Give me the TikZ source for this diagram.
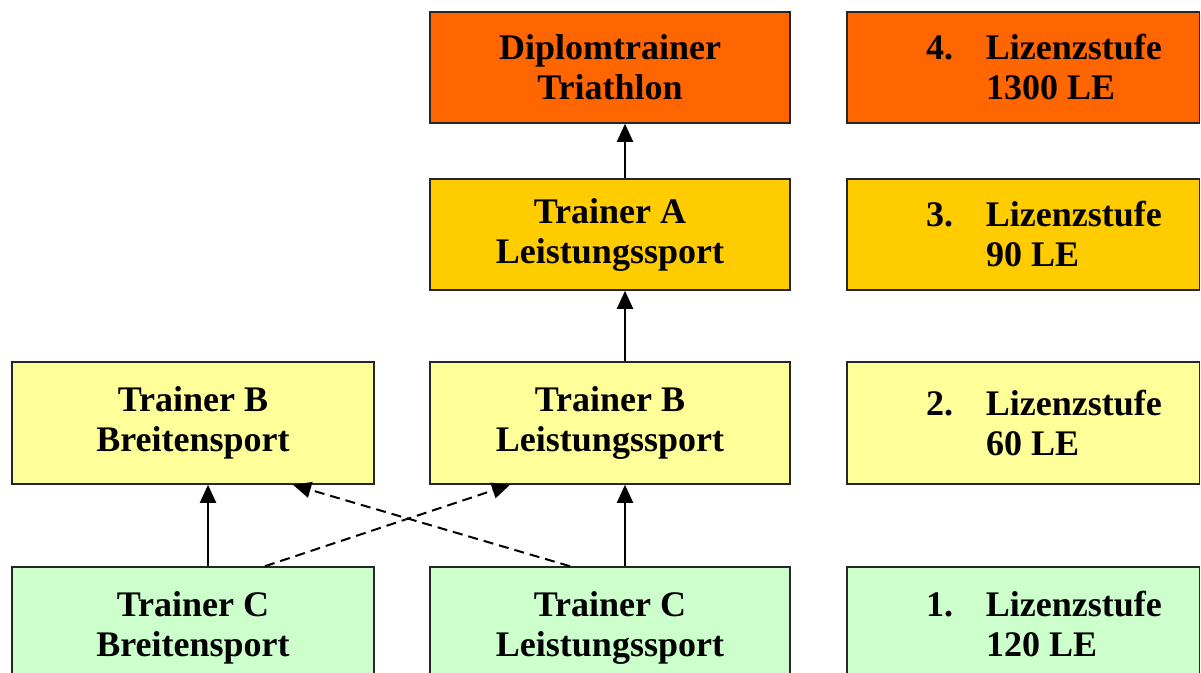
\documentclass[tikz,border=0pt]{standalone}
\usepackage{fontspec}
\setmainfont{Liberation Serif}
\usetikzlibrary{positioning,arrows.meta}

\definecolor{stufeVier}{HTML}{FF6600}
\definecolor{stufeDrei}{HTML}{FFCC00}
\definecolor{stufeZwei}{HTML}{FFFF99}
\definecolor{stufeEins}{HTML}{CCFFCC}

% Nummer, Lizenzstufe, Lerneinheiten
\newcommand{\stufentext}[2]{\hspace*{39.5pt}\makebox[30pt][l]{#1}Lizenzstufe\\\hspace*{69.5pt}#2}

\begin{document}
\begin{tikzpicture}[node distance=2cm,on grid,
	box/.style={draw=black!85,line width=0.8pt,minimum width=180pt,inner sep=0pt,
		align=center,font=\fontsize{18}{20}\selectfont\bfseries},
	stufe/.style={box,minimum width=176.3pt,text width=176.3pt,align=flush left},
	hoch/.style={minimum height=55.5pt},
	tief/.style={minimum height=61pt},
	pfeil/.style={line width=1pt,-{Triangle[length=9pt,width=8pt]}},
	quer/.style={pfeil,dash pattern=on 5pt off 3pt}]
	\useasboundingbox (0,0) rectangle (600.5pt,-336.5pt);
	\clip (0,0) rectangle (600.5pt,-336.5pt);
			\node[box,hoch,fill=stufeVier] (dipl) at (305pt,-33.75pt) {Diplomtrainer\\Triathlon};
			\node[box,hoch,fill=stufeDrei] (trainA) [below=83.5pt of dipl] {Trainer A\\Leistungssport};
			\node[box,tief,fill=stufeZwei] (trainBL) [below=94.25pt of trainA] {Trainer B\\Leistungssport};
			\node[box,tief,fill=stufeEins] (trainCL) [below=102.5pt of trainBL] {Trainer C\\Leistungssport};
			\node[box,tief,fill=stufeZwei,minimum width=181pt] (trainBB) [left=208.5pt of trainBL] {Trainer B\\Breitensport};
			\node[box,tief,fill=stufeEins,minimum width=181pt] (trainCB) [left=208.5pt of trainCL] {Trainer C\\Breitensport};
			\node[stufe,hoch,fill=stufeVier] (stufe4) [right=206.65pt of dipl] {\stufentext{4.}{1300 LE}};
			\node[stufe,hoch,fill=stufeDrei] (stufe3) [right=206.65pt of trainA] {\stufentext{3.}{90 LE}};
			\node[stufe,tief,fill=stufeZwei] (stufe2) [right=206.65pt of trainBL] {\stufentext{2.}{60 LE}};
			\node[stufe,tief,fill=stufeEins] (stufe1) [right=206.65pt of trainCL] {\stufentext{1.}{120 LE\vphantom{p}}};
			\path[pfeil]
			([xshift=7.5pt]trainCB.north) edge ([xshift=7.5pt]trainBB.south)
			([xshift=7.5pt]trainCL.north) edge ([xshift=7.5pt]trainBL.south)
			([xshift=7.5pt]trainBL.north) edge ([xshift=7.5pt]trainA.south)
			([xshift=7.5pt]trainA.north) edge ([xshift=7.5pt]dipl.south);
			\path[quer]
			([xshift=36pt]trainCB.north) edge ([xshift=-50pt]trainBL.south)
			([xshift=-20pt]trainCL.north) edge ([xshift=50pt]trainBB.south);
		\end{tikzpicture}
\end{document}
